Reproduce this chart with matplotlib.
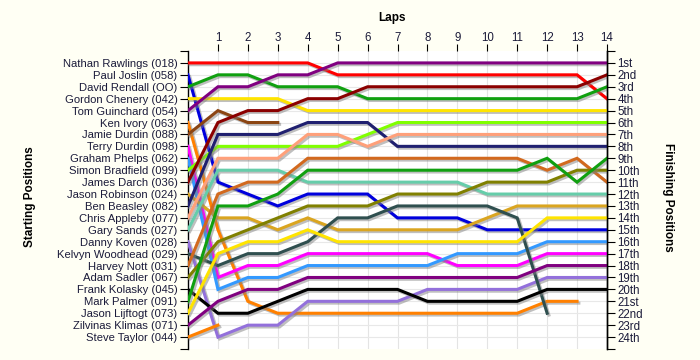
import matplotlib
matplotlib.use("Agg")
import matplotlib.pyplot as plt
import matplotlib.patheffects as pe
import numpy as np

plt.rcParams['font.family'] = ['Liberation Sans', 'DejaVu Sans']

# driver names in starting order
drivers = [
    "Nathan Rawlings (018)", "Paul Joslin (058)", "David Rendall (OO)",
    "Gordon Chenery (042)", "Tom Guinchard (054)", "Ken Ivory (063)",
    "Jamie Durdin (088)", "Terry Durdin (098)", "Graham Phelps (062)",
    "Simon Bradfield (099)", "James Darch (036)", "Jason Robinson (024)",
    "Ben Beasley (082)", "Chris Appleby (077)", "Gary Sands (027)",
    "Danny Koven (028)", "Kelvyn Woodhead (029)", "Harvey Nott (031)",
    "Adam Sadler (067)", "Frank Kolasky (045)", "Mark Palmer (091)",
    "Jason Lijftogt (073)", "Zilvinas Klimas (071)", "Steve Taylor (044)",
]

colors = [
    "#ff0000", "#0000dd", "#10a010", "#ffe400", "#800080", "#ff8000",
    "#8b4513", "#ff00ff", "#3399ff", "#80ff00", "#8b0000", "#daa520",
    "#202070", "#ffa07a", "#66cdaa", "#9370db", "#2f4f4f", "#d2691e",
    "#808000", "#000000", "#10a010", "#ffe400", "#800080", "#ff8000",
]

# position per lap, lap 0 = grid
laps_pos = [
    [1, 1, 1, 1, 1, 2, 2, 2, 2, 2, 2, 2, 2, 2, 4],
    [2, 11, 12, 13, 12, 12, 12, 14, 14, 14, 15, 15, 15, 15, 15],
    [3, 2, 2, 3, 3, 3, 4, 4, 4, 4, 4, 4, 4, 4, 3],
    [4, 4, 4, 4, 5, 5, 5, 5, 5, 5, 5, 5, 5, 5, 5],
    [5, 3, 3, 2, 2, 1, 1, 1, 1, 1, 1, 1, 1, 1, 1],
    [6, 15, 21, 22, 22, 22, 22, 22, 22, 22, 22, 22, 21, 21],
    [7, 5, 6, 6],
    [8, 19, 18, 18, 17, 17, 17, 17, 17, 18, 18, 18, 17, 17, 17],
    [9, 20, 19, 19, 18, 18, 18, 18, 18, 17, 17, 17, 16, 16, 16],
    [10, 8, 8, 8, 8, 8, 7, 6, 6, 6, 6, 6, 6, 6, 6],
    [11, 6, 5, 5, 4, 4, 3, 3, 3, 3, 3, 3, 3, 3, 2],
    [12, 14, 14, 15, 14, 15, 15, 15, 15, 15, 14, 13, 13, 13, 13],
    [13, 7, 7, 7, 6, 6, 6, 8, 8, 8, 8, 8, 8, 8, 8],
    [14, 9, 9, 9, 7, 7, 8, 7, 7, 7, 7, 7, 7, 7, 7],
    [15, 10, 10, 10, 11, 11, 11, 11, 11, 11, 12, 12, 12, 12, 12],
    [16, 24, 23, 23, 21, 21, 21, 21, 20, 20, 20, 20, 19, 19, 19],
    [17, 18, 17, 17, 16, 14, 14, 13, 13, 13, 13, 14, 22],
    [18, 12, 11, 11, 9, 9, 9, 9, 9, 9, 9, 9, 10, 9, 11],
    [19, 16, 15, 14, 13, 13, 13, 12, 12, 12, 11, 11, 11, 10, 10],
    [20, 22, 22, 21, 20, 20, 20, 20, 21, 21, 21, 21, 20, 20, 20],
    [21, 13, 13, 12, 10, 10, 10, 10, 10, 10, 10, 10, 9, 11, 9],
    [22, 17, 16, 16, 15, 16, 16, 16, 16, 16, 16, 16, 14, 14, 14],
    [23, 21, 20, 20, 19, 19, 19, 19, 19, 19, 19, 19, 18, 18, 18],
    [24, 23],
]

finish_labels = ["1st", "2nd", "3rd"] + [f"{i}th" for i in range(4, 21)] + ["21st", "22nd", "23rd", "24th"]
n_laps = 14
txt = "#1b1b3a"

fig = plt.figure(figsize=(7, 3.6), dpi=100, facecolor="#fffff4")
ax = fig.add_axes([188 / 700, 1 - 349 / 360, 419 / 700, 298 / 360])
ax.set_facecolor("white")

shadow = [pe.SimpleLineShadow(offset=(1.3, -1.3), shadow_color="#808080", alpha=0.5), pe.Normal()]
for pos, c in zip(laps_pos, colors):
    ax.plot(np.arange(len(pos)), pos, color=c, lw=2.2, solid_joinstyle="miter",
            path_effects=shadow, zorder=3)

ax.set_xlim(0, n_laps)
ax.set_ylim(25, 0)

# grid
for x in range(1, n_laps):
    ax.axvline(x, color="#e4e4e4", lw=0.8, zorder=1)
for y in range(1, 25):
    ax.axhline(y, color="#e8e8e8", lw=0.8, zorder=1)

ax.xaxis.tick_top()
ax.set_xticks(range(1, n_laps + 1))
ax.set_xticklabels([str(i) for i in range(1, n_laps + 1)], fontsize=8.3, color=txt)
ax.tick_params(axis="x", length=5, pad=0, width=0.8)

ax.set_yticks(range(0, 26))
ax.set_yticklabels([""] + drivers + [""], fontsize=8.1, color=txt)
ax.tick_params(axis="y", length=6, width=0.8, pad=1.5)

for s in ["top", "bottom"]:
    ax.spines[s].set_visible(False)
ax.spines["left"].set_linewidth(1.0)
ax.spines["right"].set_linewidth(1.0)

ax2 = ax.twinx()
ax2.set_ylim(25, 0)
ax2.set_yticks(range(0, 26))
ax2.set_yticklabels([""] + finish_labels + [""], fontsize=8.3, color=txt)
ax2.tick_params(axis="y", length=6, width=0.8, pad=1.5)
for s in ["top", "bottom", "left"]:
    ax2.spines[s].set_visible(False)
ax2.spines["right"].set_linewidth(1.0)

fig.text(392 / 700, 1 - 18 / 360, "Laps", ha="center", va="center", fontsize=8.5, fontweight="bold")
fig.text(30 / 700, 1 - 197 / 360, "Starting Positions", ha="center", va="center",
         rotation=90, fontsize=8.5, fontweight="bold")
fig.text(668 / 700, 1 - 197 / 360, "Finishing Positions", ha="center", va="center",
         rotation=270, fontsize=8.5, fontweight="bold")

fig.savefig("out.png", dpi=100, facecolor=fig.get_facecolor())
